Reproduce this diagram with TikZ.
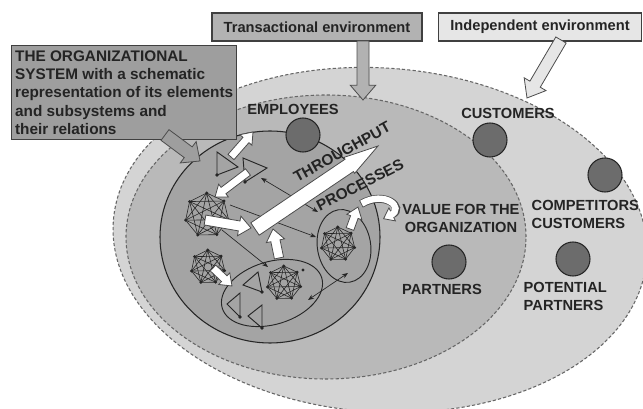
\documentclass[tikz,border=0pt]{standalone}
\usepackage{fontspec}
\setmainfont{Liberation Sans}
\usetikzlibrary{arrows.meta,shapes.geometric,calc}

\definecolor{indepgray}{HTML}{D4D4D4}
\definecolor{transgray}{HTML}{B9B9B9}
\definecolor{orggray}{HTML}{A4A4A4}
\definecolor{boxgray}{HTML}{9E9E9E}
\definecolor{boxmid}{HTML}{B2B2B2}
\definecolor{boxlight}{HTML}{E6E6E6}
\definecolor{actorgray}{HTML}{6C6C6C}
\definecolor{inkgray}{HTML}{242424}

\tikzset{x=0.75pt, y=-0.75pt, % one unit is one pixel of the sketch
    every node/.style={font=\fontsize{11}{13.5}\selectfont\bfseries, text=inkgray},
    environment/.style={ % dashed border of an environment
        ellipse, draw=black!60, line width=0.8pt, dash pattern=on 2.4pt off 1.6pt},
    subsystem/.style={ellipse, draw=black!85, line width=0.7pt},
    actor/.style={circle, draw=black!85, line width=0.8pt, fill=actorgray, minimum size=25.5pt},
    labelbox/.style={rectangle, draw=black!75, line width=0.8pt, minimum height=21pt, inner sep=2pt},
    net/.style={draw=black!85, line width=0.45pt},
    link/.style={draw=black!85, line width=0.5pt, -{Stealth[length=4.5pt, width=3.5pt]}},
    twolink/.style={link, {Stealth[length=4.5pt, width=3.5pt]}-{Stealth[length=4.5pt, width=3.5pt]}},
    blockarrow/.style={draw=black!70, line width=0.6pt, fill=white, line join=miter},
    curvedflow/.style={ % bent flow: outlined stroke with a white head
        line width=6pt, draw=black!70,
        -{Triangle[length=8pt, width=12pt, fill=white, line width=0.6pt]},
        postaction={draw=white, line width=4.8pt, -, shorten <=0.6pt, shorten >=6.5pt}}
}

% block arrow: options, from, to, half shaft, half head, head length
\newcommand{\fatarrow}[6][]{%
    \coordinate (fa-h) at ($(#3)!#6!(#2)$);
    \draw[blockarrow, #1] ($(#2)!#4!90:(#3)$) -- ($(fa-h)!#4!90:(#3)$) -- ($(fa-h)!#5!90:(#3)$)
        -- (#3) -- ($(fa-h)!#5!-90:(#3)$) -- ($(fa-h)!#4!-90:(#3)$) -- ($(#2)!#4!-90:(#3)$) -- cycle;
}
\newcommand{\cluster}[3]{% name, centre, radius
    \foreach \k in {1,...,7}
        \coordinate (#1-\k) at ($(#2)+({\k*360/7+12}:#3)$);
    \foreach \k in {1,...,7}{
        \foreach \m in {\k,...,7}
            \draw[net] (#1-\k) -- (#1-\m);
        \fill[black!85] (#1-\k) circle (1.2pt);
    }
}
\newcommand{\trio}[3]{% an element: open triangle with a dot
    \draw[net, line width=0.7pt] (#1) -- (#2) -- (#3) -- cycle;
    \fill[black!85] (#3) circle (1.4pt);
}

\begin{document}
\begin{tikzpicture}
    \useasboundingbox (0,0) rectangle (643,409);

    % environments and the organizational system
    \node[environment, fill=indepgray, minimum width=401pt, minimum height=258pt, rotate=-4] (indepenv) at (380,240) {};
    \node[environment, fill=transgray, minimum width=300pt, minimum height=213pt] (transenv) at (326,237) {};
    \node[ellipse, draw=black!85, line width=0.8pt, fill=orggray, minimum width=165pt, minimum height=159pt] (orgsys) at (270,237) {};
    \node[subsystem, minimum width=78pt, minimum height=47pt, rotate=17] (lowsub) at (272,293) {};
    \node[subsystem, minimum width=40pt, minimum height=55pt, rotate=9] (procsub) at (344,246) {};

    % elements and subsystems
    \cluster{netA}{207,215}{22}
    \cluster{netB}{208,267}{17}
    \cluster{netC}{338,244}{17}
    \cluster{netD}{284,283}{17}
    \trio{217,152}{238,167}{217,175}
    \trio{243,158}{267,168}{245,182}
    \trio{258,272}{243,285}{262,292}
    \trio{240,293}{227,304}{240,317}
    \trio{262,305}{248,316}{262,328}
    \fill[black!85] (303,270) circle (1.2pt);

    % relations
    \coordinate (triB) at (261,178);
    \coordinate (procTop) at (318,212);
    \coordinate (netAout) at (230,205);
    \coordinate (procLeft) at (316,237);
    \coordinate (netAlow) at (222,230);
    \coordinate (lowTop) at (268,267);
    \coordinate (lowRight) at (308,300);
    \coordinate (procLow) at (348,273);
    \draw[twolink] (triB) -- (procTop);
    \draw[link] (netAout) -- (procLeft);
    \draw[link] (netAlow) -- (lowTop);
    \draw[twolink] (lowRight) -- (procLow);

    % flows
    \coordinate (tpBase) at (255,229);
    \coordinate (tpTip) at (378,146);
    \coordinate (triAout) at (231,157);
    \coordinate (orgEdge) at (253,132);
    \coordinate (triBout) at (248,172);
    \coordinate (netAin) at (215,197);
    \coordinate (netAright) at (205,220);
    \coordinate (tpEnd) at (251,228);
    \coordinate (lowUp) at (279,258);
    \coordinate (tpLow) at (273,229);
    \coordinate (netBout) at (213,268);
    \coordinate (lowIn) at (232,286);
    \coordinate (procUp) at (350,229);
    \coordinate (procOut) at (358,207);
    \coordinate (turnA) at (361,204);
    \coordinate (valueIn) at (383,219);
    \fatarrow{tpBase}{tpTip}{5.6pt}{7.2pt}{26pt}
    \fatarrow{triAout}{orgEdge}{3pt}{6pt}{8pt}
    \fatarrow{triBout}{netAin}{3pt}{6pt}{8pt}
    \fatarrow{netBout}{lowIn}{3pt}{6pt}{8pt}
    \fatarrow{netAright}{tpEnd}{3.75pt}{7.5pt}{9pt}
    \fatarrow{lowUp}{tpLow}{3.5pt}{7pt}{9pt}
    \fatarrow{procUp}{procOut}{3pt}{6pt}{8pt}
    \draw[curvedflow] (turnA) .. controls (385,190) and (405,208) .. (valueIn);

    \node[rotate=29, font=\fontsize{11.5}{13}\selectfont\bfseries] (throughput) at (342,152) {THROUGHPUT};
    \node[rotate=27, font=\fontsize{11.5}{13}\selectfont\bfseries] (processes) at (360,185) {PROCESSES};

    % actors of the environments
    \node[actor] (employees)   at (303,135) {};
    \node[actor] (customers)   at (490,140) {};
    \node[actor] (competitors) at (605,175) {};
    \node[actor] (partners)    at (449,262) {};
    \node[actor] (potpartners) at (573,259) {};

    \node (employeeslbl) at (293,109) {EMPLOYEES};
    \node (customerslbl) at (508,113) {CUSTOMERS};
    \node[anchor=west, align=left] (competitorslbl) at (527,214) {COMPETITORS\\CUSTOMERS};
    \node[align=center] (valuelbl) at (461,218) {VALUE FOR THE\\ORGANIZATION};
    \node (partnerslbl) at (442,289) {PARTNERS};
    \node[anchor=west, align=left] (potpartnerslbl) at (519,296) {POTENTIAL\\PARTNERS};

    % captions
    \node[labelbox, fill=boxgray, anchor=north west, minimum width=169pt, minimum height=70.5pt, inner sep=2pt,
          align=left, font=\fontsize{11.5}{13.7}\selectfont\bfseries] (orgbox) at (11,45)
        {THE ORGANIZATIONAL\\SYSTEM with a schematic\\representation of its elements\\and subsystems and\\their relations};
    \node[labelbox, fill=boxmid, minimum width=157.5pt] (transbox) at (317,27) {Transactional environment};
    \node[labelbox, fill=boxlight, minimum width=152pt] (indepbox) at (540,27) {Independent environment};

    \coordinate (orgTail) at (165,135);
    \coordinate (orgTip) at (200,161);
    \coordinate (transTail) at (363,41);
    \coordinate (transTip) at (363,100);
    \coordinate (indepTail) at (561,40);
    \coordinate (indepTip) at (527,98);
    \fatarrow[fill=boxgray]{orgTail}{orgTip}{5pt}{10pt}{11pt}
    \fatarrow[fill=boxmid]{transTail}{transTip}{4.5pt}{9.5pt}{11pt}
    \fatarrow[fill=boxlight]{indepTail}{indepTip}{4.5pt}{9.5pt}{12pt}
\end{tikzpicture}
\end{document}
